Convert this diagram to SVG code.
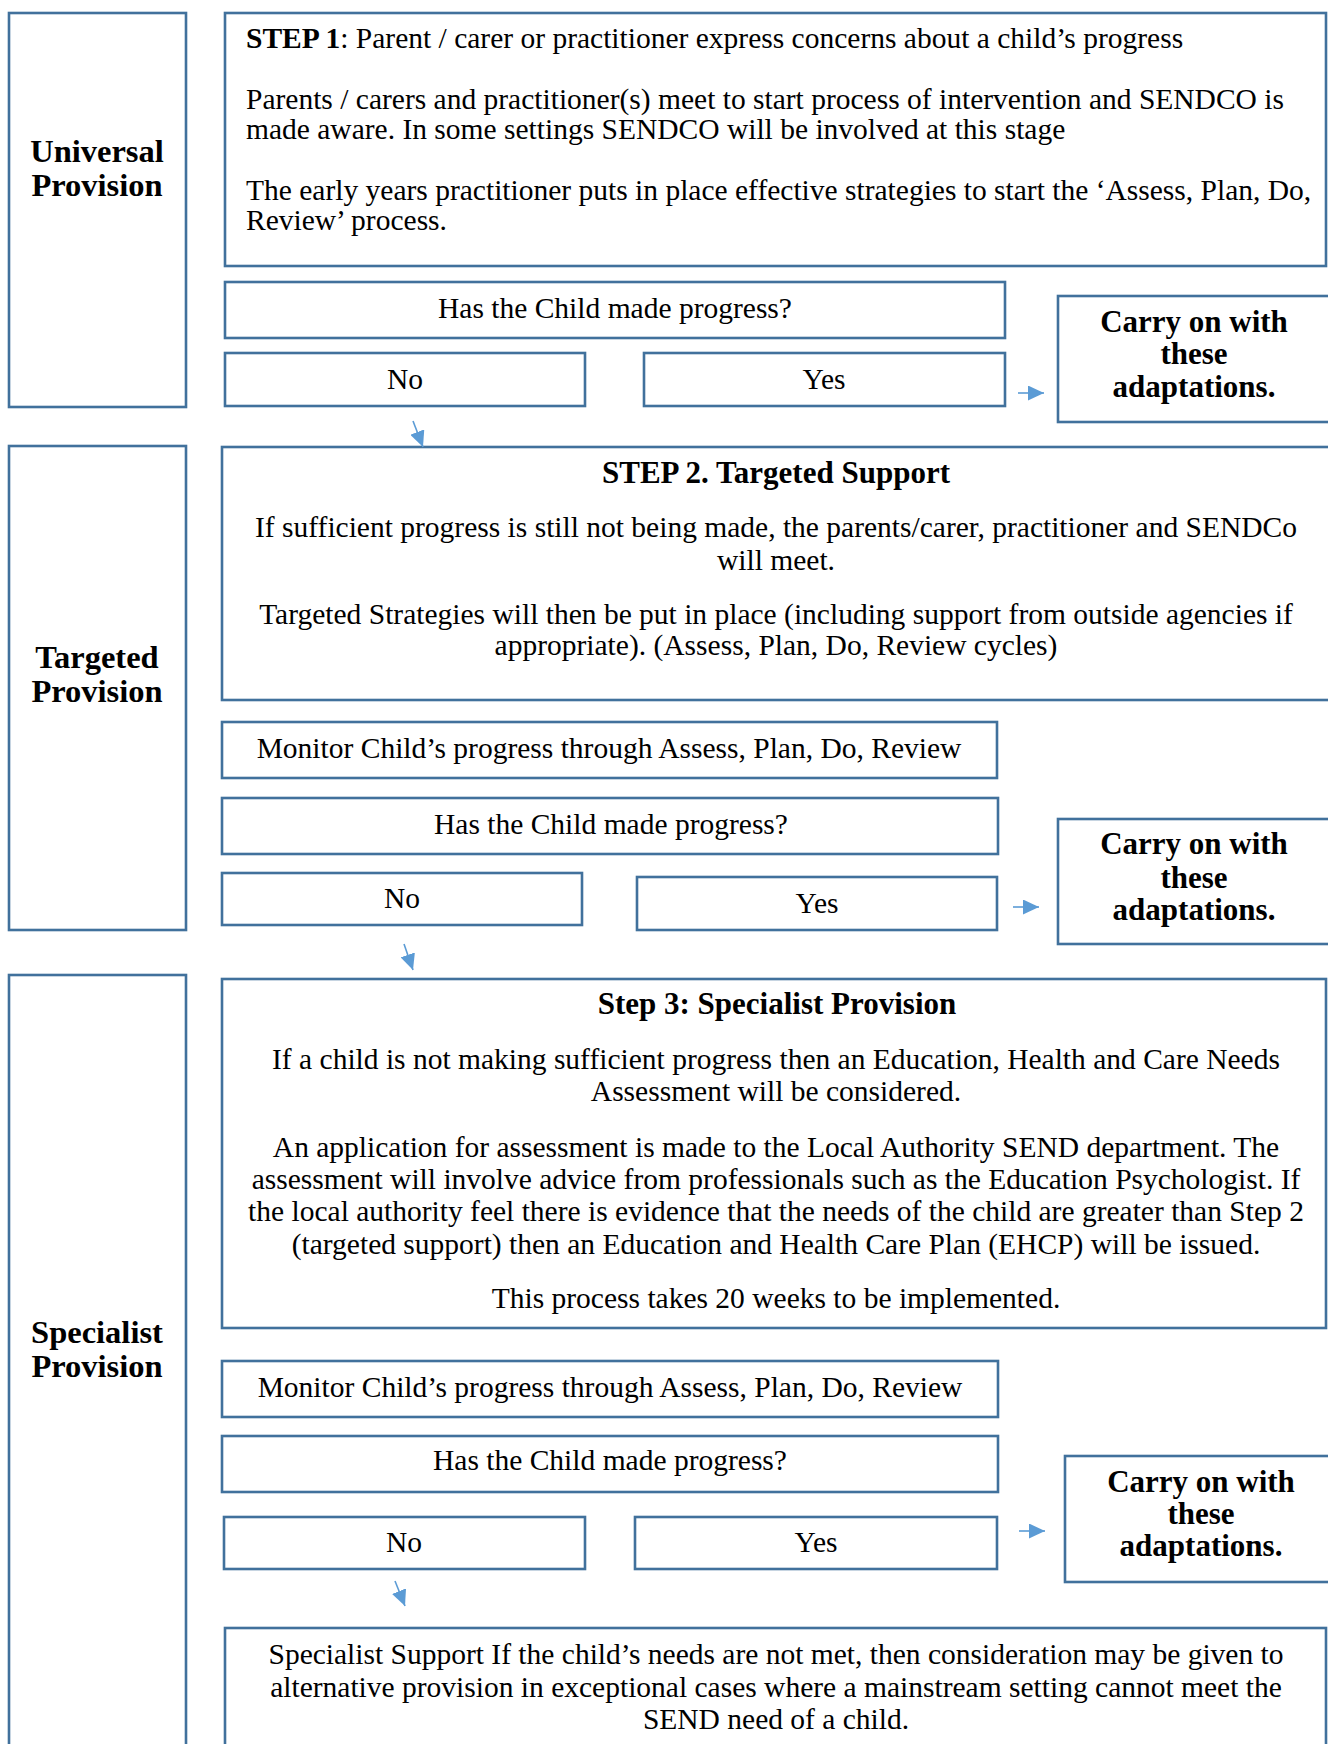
<svg xmlns="http://www.w3.org/2000/svg" width="1328" height="1744" viewBox="0 0 1328 1744">
<defs>
<style>
.box{fill:#ffffff;stroke:#41719C;stroke-width:2.6}
.t{font-family:"Liberation Serif","Times New Roman",serif;font-size:29.5px;fill:#000000}
.c{text-anchor:middle}
.b{font-family:"Liberation Serif","Times New Roman",serif;font-size:31px;font-weight:bold;fill:#000000}
.lb{font-size:32.5px}
.conn{stroke:#5B9BD5;stroke-width:1.6;fill:none;marker-end:url(#ah)}
</style>
<marker id="ah" markerUnits="userSpaceOnUse" markerWidth="16" markerHeight="15" refX="16" refY="7.5" orient="auto">
<path d="M0,0 L16,7.5 L0,15 z" fill="#5B9BD5"/>
</marker>
</defs>
<rect width="1328" height="1744" fill="#ffffff"/>

<g id="universal-provision">
<rect class="box" x="9" y="13" width="177" height="394"/>
<text class="b lb c" x="97" y="162">Universal</text>
<text class="b lb c" x="97" y="196">Provision</text>
</g>
<g id="step1">
<rect class="box" x="225" y="13" width="1101" height="253"/>
<text class="t" x="246" y="48"><tspan font-weight="bold">STEP 1</tspan>: Parent / carer or practitioner express concerns about a child’s progress</text>
<text class="t" x="246" y="109">Parents / carers and practitioner(s) meet to start process of intervention and SENDCO is</text>
<text class="t" x="246" y="139">made aware. In some settings SENDCO will be involved at this stage</text>
<text class="t" x="246" y="200">The early years practitioner puts in place effective strategies to start the ‘Assess, Plan, Do,</text>
<text class="t" x="246" y="230">Review’ process.</text>
</g>
<g id="q1">
<rect class="box" x="225" y="282" width="780" height="56"/>
<text class="t c" x="615" y="318">Has the Child made progress?</text>
</g>
<g id="no1">
<rect class="box" x="225" y="353" width="360" height="53"/>
<text class="t c" x="405" y="389">No</text>
</g>
<g id="yes1">
<rect class="box" x="644" y="353" width="361" height="53"/>
<text class="t c" x="824" y="389">Yes</text>
</g>
<g id="carry1">
<rect class="box" x="1058" y="296" width="290" height="126"/>
<text class="b c" x="1194" y="332">Carry on with</text>
<text class="b c" x="1194" y="364">these</text>
<text class="b c" x="1194" y="397">adaptations.</text>
</g>

<g id="targeted-provision">
<rect class="box" x="9" y="446" width="177" height="484"/>
<text class="b lb c" x="97" y="668">Targeted</text>
<text class="b lb c" x="97" y="702">Provision</text>
</g>
<g id="step2">
<rect class="box" x="222" y="447" width="1126" height="253"/>
<text class="b c" x="776" y="483">STEP 2. Targeted Support</text>
<text class="t c" x="776" y="537">If sufficient progress is still not being made, the parents/carer, practitioner and SENDCo</text>
<text class="t c" x="776" y="570">will meet.</text>
<text class="t c" x="776" y="624">Targeted Strategies will then be put in place (including support from outside agencies if</text>
<text class="t c" x="776" y="655">appropriate). (Assess, Plan, Do, Review cycles)</text>
</g>
<g id="monitor2">
<rect class="box" x="222" y="722" width="775" height="56"/>
<text class="t c" x="609" y="758">Monitor Child’s progress through Assess, Plan, Do, Review</text>
</g>
<g id="q2">
<rect class="box" x="222" y="798" width="776" height="56"/>
<text class="t c" x="611" y="834">Has the Child made progress?</text>
</g>
<g id="no2">
<rect class="box" x="222" y="873" width="360" height="52"/>
<text class="t c" x="402" y="908">No</text>
</g>
<g id="yes2">
<rect class="box" x="637" y="877" width="360" height="53"/>
<text class="t c" x="817" y="913">Yes</text>
</g>
<g id="carry2">
<rect class="box" x="1058" y="819" width="290" height="125"/>
<text class="b c" x="1194" y="854">Carry on with</text>
<text class="b c" x="1194" y="888">these</text>
<text class="b c" x="1194" y="920">adaptations.</text>
</g>

<g id="specialist-provision">
<rect class="box" x="9" y="975" width="177" height="790"/>
<text class="b lb c" x="97" y="1343">Specialist</text>
<text class="b lb c" x="97" y="1377">Provision</text>
</g>
<g id="step3">
<rect class="box" x="222" y="979" width="1104" height="349"/>
<text class="b c" x="777" y="1014" font-size="31.5">Step 3: Specialist Provision</text>
<text class="t c" x="776" y="1069">If a child is not making sufficient progress then an Education, Health and Care Needs</text>
<text class="t c" x="776" y="1101">Assessment will be considered.</text>
<text class="t c" x="776" y="1157">An application for assessment is made to the Local Authority SEND department. The</text>
<text class="t c" x="776" y="1189">assessment will involve advice from professionals such as the Education Psychologist. If</text>
<text class="t c" x="776" y="1221">the local authority feel there is evidence that the needs of the child are greater than Step 2</text>
<text class="t c" x="776" y="1254">(targeted support) then an Education and Health Care Plan (EHCP) will be issued.</text>
<text class="t c" x="776" y="1308">This process takes 20 weeks to be implemented.</text>
</g>
<g id="monitor3">
<rect class="box" x="222" y="1361" width="776" height="56"/>
<text class="t c" x="610" y="1397">Monitor Child’s progress through Assess, Plan, Do, Review</text>
</g>
<g id="q3">
<rect class="box" x="222" y="1436" width="776" height="56"/>
<text class="t c" x="610" y="1470">Has the Child made progress?</text>
</g>
<g id="no3">
<rect class="box" x="224" y="1517" width="361" height="52"/>
<text class="t c" x="404" y="1552">No</text>
</g>
<g id="yes3">
<rect class="box" x="635" y="1517" width="362" height="52"/>
<text class="t c" x="816" y="1552">Yes</text>
</g>
<g id="carry3">
<rect class="box" x="1065" y="1456" width="290" height="126"/>
<text class="b c" x="1201" y="1492">Carry on with</text>
<text class="b c" x="1201" y="1524">these</text>
<text class="b c" x="1201" y="1556">adaptations.</text>
</g>
<g id="specialist-support">
<rect class="box" x="225" y="1628" width="1101" height="140"/>
<text class="t c" x="776" y="1664">Specialist Support If the child’s needs are not met, then consideration may be given to</text>
<text class="t c" x="776" y="1697">alternative provision in exceptional cases where a mainstream setting cannot meet the</text>
<text class="t c" x="776" y="1729">SEND need of a child.</text>
</g>

<g id="connectors">
<line class="conn" x1="413" y1="421" x2="423" y2="447"/>
<line class="conn" x1="1018" y1="393" x2="1044" y2="393"/>
<line class="conn" x1="404" y1="944" x2="413" y2="970"/>
<line class="conn" x1="1013" y1="907" x2="1039" y2="907"/>
<line class="conn" x1="395" y1="1581" x2="405" y2="1606"/>
<line class="conn" x1="1019" y1="1531" x2="1045" y2="1531"/>
</g>
</svg>
